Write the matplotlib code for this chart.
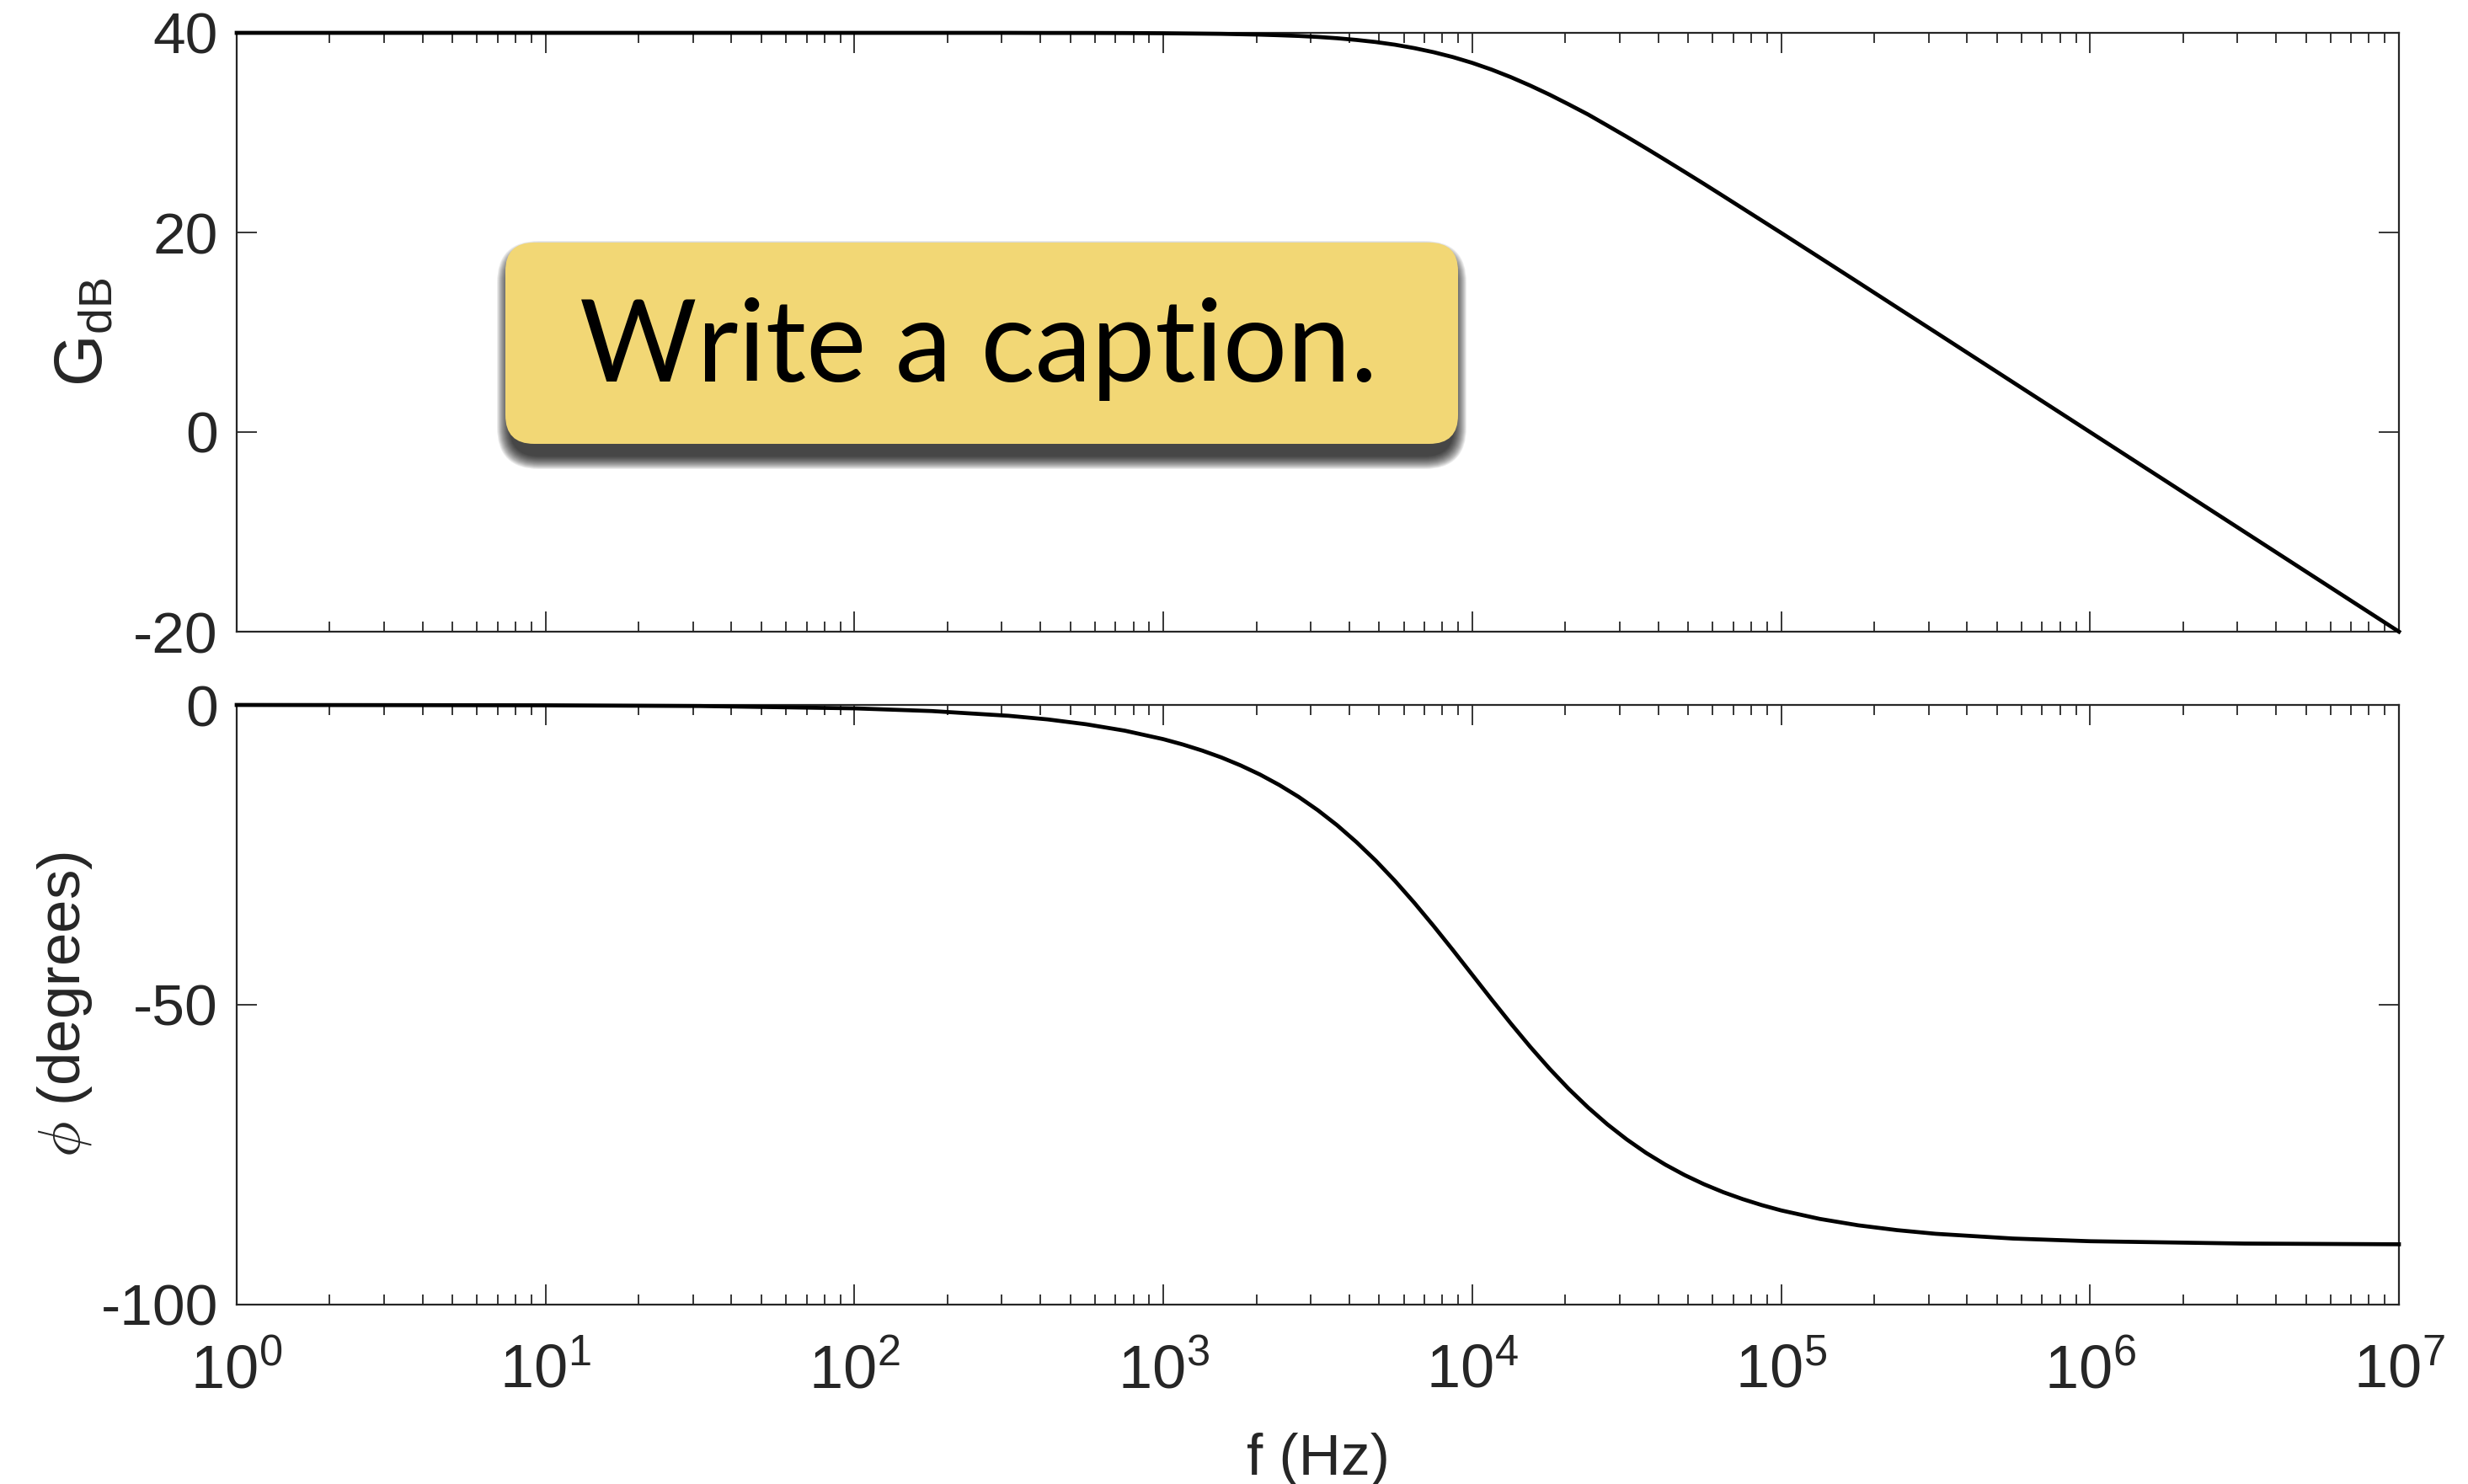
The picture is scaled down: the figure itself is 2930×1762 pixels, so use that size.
import math
import matplotlib
matplotlib.use("Agg")
import matplotlib.pyplot as plt
from matplotlib import ticker
from matplotlib.patches import FancyBboxPatch

# ---------------- data ----------------
freq_hz = [1, 10, 31.6, 100, 178, 316, 422, 562, 750,
           1000, 1155, 1334, 1540, 1778, 2054, 2371, 2738, 3162, 3652,
           4217, 4870, 5623, 6494, 7499, 8660,
           10000, 11548, 13335, 15399, 17783, 20535, 23714, 27384,
           31623, 36517, 42170, 48697, 56234, 64938, 74989, 86596,
           100000, 133352, 177828, 237137, 316228, 562341,
           1000000, 3162278, 10000000]
gain_db = [40.0, 40.0, 40.0, 40.0, 40.0, 40.0, 39.99, 39.99, 39.98,
           39.96, 39.94, 39.92, 39.90, 39.86, 39.82, 39.76, 39.69, 39.59, 39.46,
           39.29, 39.08, 38.81, 38.47, 38.06, 37.57,
           36.99, 36.32, 35.56, 34.72, 33.81, 32.83, 31.82, 30.71,
           29.59, 28.44, 27.26, 26.07, 24.87, 23.65, 22.42, 21.19,
           19.96, 17.48, 14.99, 12.49, 10.0, 5.0,
           0.0, -10.0, -20.0]
phase_deg = [0.0, -0.06, -0.18, -0.57, -1.02, -1.81, -2.41, -3.22, -4.29,
             -5.71, -6.59, -7.60, -8.75, -10.08, -11.60, -13.34, -15.31, -17.55, -20.06,
             -22.87, -25.96, -29.35, -33.00, -36.87, -40.89,
             -45.0, -49.11, -53.13, -57.00, -60.65, -64.04, -67.13, -69.94,
             -72.45, -74.69, -76.66, -78.40, -79.92, -81.25, -82.40, -83.41,
             -84.29, -85.71, -86.78, -87.58, -88.19, -88.98,
             -89.43, -89.82, -89.94]

gain_ticks = [-20, 0, 20, 40]
phase_ticks = [-100, -50, 0]
freq_ticks = [1e0, 1e1, 1e2, 1e3, 1e4, 1e5, 1e6, 1e7]
caption = "Write a caption."

# ---------------- style ----------------
plt.rcParams["font.family"] = ["Liberation Sans", "DejaVu Sans"]
plt.rcParams["mathtext.fontset"] = "custom"
plt.rcParams["mathtext.rm"] = "Liberation Sans"
plt.rcParams["mathtext.it"] = "Liberation Sans:italic"
plt.rcParams["axes.unicode_minus"] = False

INK = "#262626"
W, H = 2930, 1762

fig = plt.figure(figsize=(W / 100, H / 100), dpi=100)

def px_axes(x0, y0, x1, y1):
    return fig.add_axes([x0 / W, 1 - y1 / H, (x1 - x0) / W, (y1 - y0) / H])

ax1 = px_axes(281, 39, 2848, 750)
ax2 = px_axes(281, 837, 2848, 1549)

for ax in (ax1, ax2):
    ax.set_xscale("log")
    ax.set_xlim(1, 1e7)
    ax.xaxis.set_major_locator(ticker.FixedLocator(freq_ticks))
    ax.xaxis.set_minor_locator(ticker.LogLocator(base=10, subs=range(2, 10), numticks=20))
    ax.tick_params(which="both", direction="in", top=True, right=True,
                   colors=INK, width=1.3)
    ax.tick_params(which="major", length=17)
    ax.tick_params(which="minor", length=8.5)
    ax.tick_params(axis="y", which="major", pad=16, labelsize=50)
    ax.tick_params(axis="x", which="major", pad=33, labelsize=52)
    for sp in ax.spines.values():
        sp.set_color(INK)
        sp.set_linewidth(1.6)

ax1.plot(freq_hz, gain_db, color="black", lw=3.4, clip_on=False, zorder=5,
         solid_joinstyle="round")
ax1.set_ylim(-20, 40)
ax1.set_yticks(gain_ticks)
ax1.xaxis.set_major_formatter(ticker.NullFormatter())
ax1.set_ylabel(r"G$_{\mathregular{dB}}$", fontsize=57, color=INK)
ax1.yaxis.set_label_coords((138 - 281) / 2567, 0.5)

ax2.plot(freq_hz, phase_deg, color="black", lw=3.4, clip_on=False, zorder=5,
         solid_joinstyle="round")
ax2.set_ylim(-100, 0)
ax2.set_yticks(phase_ticks)
ax2.xaxis.set_major_formatter(
    ticker.FuncFormatter(lambda v, p: r"$\mathregular{10^{%d}}$" % round(math.log10(v))))
ax2.set_ylabel(r"$\phi$ (degrees)", fontsize=51, color=INK, math_fontfamily="cm")
ax2.yaxis.set_label_coords((112 - 281) / 2567, 0.5)
ax2.set_xlabel("f (Hz)", fontsize=50, color=INK)
ax2.xaxis.set_label_coords(0.5, -(1701 - 1549) / 712)

# ---------------- caption box overlay (pixel coordinates) ----------------
ov = fig.add_axes([0, 0, 1, 1], zorder=10)
ov.set_xlim(0, W)
ov.set_ylim(H, 0)
ov.axis("off")
ov.patch.set_alpha(0)

bx0, by0, bw, bh, rad = 600, 288, 1131, 239, 34
n = 16
for k in range(n):
    g = 16 * (1 - k / n)
    ov.add_patch(FancyBboxPatch((bx0 + 6 - g, by0 + 14 - g), bw - 12 + 2 * g, bh + 2 * g,
                                boxstyle=f"round,pad=0,rounding_size={rad + g}",
                                fc="black", ec="none", alpha=0.075))
ov.add_patch(FancyBboxPatch((bx0, by0), bw, bh,
                            boxstyle=f"round,pad=0,rounding_size={rad}",
                            fc="#F2D775", ec="none"))
ov.text(bx0 + bw / 2 - 4, 453, caption, ha="center", va="baseline",
        fontsize=97, family=["Lato", "DejaVu Sans"], fontweight="normal",
        color="black")

fig.savefig("out.png", dpi=100)
